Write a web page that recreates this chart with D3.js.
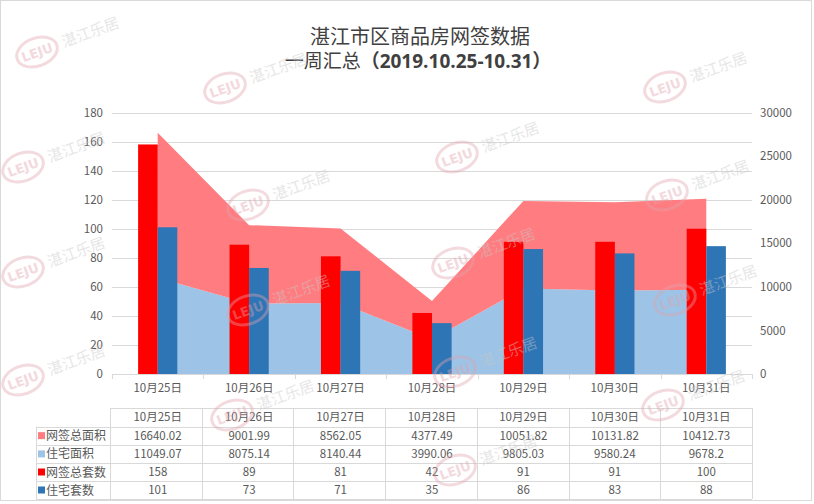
<!DOCTYPE html>
<html><head><meta charset="utf-8">
<script src="https://cdn.jsdelivr.net/npm/d3@7"></script>
<style>
html,body{margin:0;padding:0;background:#fff;}
svg{display:block;font-family:"Noto Sans CJK SC","Noto Sans",sans-serif;}
</style></head>
<body><svg id="c" width="814" height="504"></svg>
<script>
const categories = ['10月25日','10月26日','10月27日','10月28日','10月29日','10月30日','10月31日'];
const totalArea = [16640.02, 9001.99, 8562.05, 4377.49, 10051.82, 10131.82, 10412.73];
const resArea = [11049.07, 8075.14, 8140.44, 3990.06, 9805.03, 9580.24, 9678.2];
const totalUnits = [158, 89, 81, 42, 91, 91, 100];
const resUnits = [101, 73, 71, 35, 86, 83, 88];
const totalAreaText = ['16640.02','9001.99','8562.05','4377.49','10051.82','10131.82','10412.73'];
const resAreaText = ['11049.07','8075.14','8140.44','3990.06','9805.03','9580.24','9678.2'];
const leftTicks = [0,20,40,60,80,100,120,140,160,180];
const rightTicks = [0,5000,10000,15000,20000,25000,30000];
const seriesNames = ['网签总面积','住宅面积','网签总套数','住宅套数'];
const titleLine1 = '湛江市区商品房网签数据';
const titleLine2a = '一周汇总';
const titleLine2b = '（2019.10.25-10.31）';

const colors = {total:'#FF7C80', res:'#9DC3E6', units:'#FF0000', resUnits:'#2E75B6'};
const svg = d3.select('#c');
const txt = '#595959', grid = '#d9d9d9';

const x0 = 112, x1 = 752, yTop = 112.5, yBot = 374;
const x = d3.scaleBand().domain(categories).range([x0, x1]).paddingInner(0).paddingOuter(0);
const yL = d3.scaleLinear().domain([0,180]).range([yBot, yTop]);
const yR = d3.scaleLinear().domain([0,30000]).range([yBot, yTop]);
const cx = c => x(c) + x.bandwidth()/2;

// border
svg.append('rect').attr('x',0.5).attr('y',0.5).attr('width',811).attr('height',500)
  .attr('fill','#fff').attr('stroke','#d9d9d9');

// title
svg.append('text').attr('x',420).attr('y',44).attr('text-anchor','middle')
  .attr('font-size',20).attr('fill','#404040').text(titleLine1);
const t2 = svg.append('text').attr('x',418).attr('y',68).attr('text-anchor','middle')
  .attr('font-size',19).attr('fill','#404040');
t2.append('tspan').text(titleLine2a);
t2.append('tspan').attr('font-weight','bold').attr('font-family','"Open Sans","Noto Sans CJK SC",sans-serif').text(titleLine2b);

// gridlines (left axis)
svg.append('g').selectAll('line').data(leftTicks.filter(d=>d>0)).join('line')
  .attr('x1',x0).attr('x2',x1).attr('y1',d=>Math.round(yL(d))+0.5).attr('y2',d=>Math.round(yL(d))+0.5)
  .attr('stroke',grid).attr('stroke-width',1);

// stacked area
const rows = categories.map((c,i)=>({cat:c, res:resArea[i], total:totalArea[i]}));
const stack = d3.stack().keys(['res','total'])(rows);
const area = d3.area().x(d=>cx(d.data.cat)).y0(d=>yR(d[0])).y1(d=>yR(d[1]));
svg.append('g').selectAll('path').data(stack).join('path')
  .attr('d',area).attr('fill',(d,i)=> i===0 ? colors.res : colors.total);

// bars
const bw = 19.6;
svg.append('g').selectAll('rect').data(categories).join('rect')
  .attr('x',c=>cx(c)-bw).attr('width',bw)
  .attr('y',(c,i)=>yL(totalUnits[i])).attr('height',(c,i)=>yBot-yL(totalUnits[i]))
  .attr('fill',colors.units);
svg.append('g').selectAll('rect').data(categories).join('rect')
  .attr('x',c=>cx(c)).attr('width',bw)
  .attr('y',(c,i)=>yL(resUnits[i])).attr('height',(c,i)=>yBot-yL(resUnits[i]))
  .attr('fill',colors.resUnits);

// x axis
const xa = svg.append('g').attr('transform',`translate(0,${yBot})`)
  .call(d3.axisBottom(x).tickSize(0).tickPadding(10));
xa.select('.domain').attr('stroke',grid).attr('d',`M${x0},0.5H${x1}`);
xa.selectAll('text').attr('font-size',11.5).attr('fill',txt).attr('font-family','"Noto Sans CJK SC",sans-serif');
svg.append('g').selectAll('line').data(d3.range(categories.length+1)).join('line')
  .attr('x1',i=>Math.round(x0+i*x.bandwidth())+0.5).attr('x2',i=>Math.round(x0+i*x.bandwidth())+0.5)
  .attr('y1',yBot).attr('y2',yBot+5).attr('stroke',grid);

// left axis
const la = svg.append('g').attr('transform',`translate(${x0},0)`)
  .call(d3.axisLeft(yL).tickValues(leftTicks).tickSize(0).tickPadding(9));
la.select('.domain').remove();
la.selectAll('text').attr('font-size',11.5).attr('fill',txt).attr('font-family','"Noto Sans CJK SC",sans-serif');

// right axis
const ra = svg.append('g').attr('transform',`translate(${x1},0)`)
  .call(d3.axisRight(yR).tickValues(rightTicks).tickFormat(d3.format('d')).tickSize(0).tickPadding(8));
ra.select('.domain').remove();
ra.selectAll('text').attr('font-size',11.5).attr('fill',txt).attr('font-family','"Noto Sans CJK SC",sans-serif');

// data table
const tbl = svg.append('g');
const rowY = [408, 426.5, 444.8, 463, 481, 499];
const labelX0 = 36;
const tableRows = [
  {name:seriesNames[0], color:colors.total, vals:totalAreaText},
  {name:seriesNames[1], color:colors.res, vals:resAreaText},
  {name:seriesNames[2], color:colors.units, vals:totalUnits.map(String)},
  {name:seriesNames[3], color:colors.resUnits, vals:resUnits.map(String)}
];
tbl.selectAll('line.h').data(rowY).join('line').attr('class','h')
  .attr('x1',(d,i)=> i===0 ? x0-2 : labelX0).attr('x2',x1)
  .attr('y1',d=>Math.round(d)+0.5).attr('y2',d=>Math.round(d)+0.5).attr('stroke',grid);
const vx = d3.range(categories.length+1).map(i=>x0-2+i*x.bandwidth()+ (i===0?0:2*(i/categories.length)));
tbl.selectAll('line.v').data(vx).join('line').attr('class','v')
  .attr('x1',d=>Math.round(d)+0.5).attr('x2',d=>Math.round(d)+0.5)
  .attr('y1',rowY[0]).attr('y2',rowY[5]).attr('stroke',grid);
tbl.append('line').attr('x1',labelX0+0.5).attr('x2',labelX0+0.5).attr('y1',rowY[1]).attr('y2',rowY[5]).attr('stroke',grid);
tbl.selectAll('text.hd').data(categories).join('text').attr('class','hd')
  .attr('x',c=>cx(c)).attr('y',(rowY[0]+rowY[1])/2+4).attr('text-anchor','middle')
  .attr('font-size',11.5).attr('fill',txt).text(c=>c);
tableRows.forEach((r,ri)=>{
  const yc = (rowY[ri+1]+rowY[ri+2])/2;
  tbl.append('rect').attr('x',labelX0+2).attr('y',yc-3.5).attr('width',7).attr('height',7).attr('fill',r.color);
  tbl.append('text').attr('x',labelX0+10).attr('y',yc+4.5).attr('font-size',12).attr('fill',txt).text(r.name);
  tbl.selectAll(null).data(r.vals).join('text')
    .attr('x',(d,i)=>cx(categories[i])).attr('y',yc+4).attr('text-anchor','middle')
    .attr('font-size',11.5).attr('fill',txt).text(d=>d);
});

// watermarks (faint)
const marks = [[37,52],[23,167],[23,272],[23,380],[225,88],[248,205],[248,310],[232,415],
  [457,157],[453,263],[455,372],[455,470],[665,87],[667,195],[675,300],[663,405]];
const wm = svg.append('g').attr('pointer-events','none');
marks.forEach(([mx,my])=>{
  const g = wm.append('g').attr('transform',`translate(${mx},${my}) rotate(-20)`);
  g.append('ellipse').attr('rx',21).attr('ry',14).attr('fill','none')
    .attr('stroke','#e2a3ad').attr('stroke-width',3).attr('opacity',0.4);
  g.append('text').attr('x',0).attr('y',5).attr('text-anchor','middle').attr('font-size',13)
    .attr('font-weight','bold').attr('fill','#e2a3ad').attr('opacity',0.4)
    .attr('font-family','"DejaVu Sans",sans-serif').text('LEJU');
  g.append('text').attr('x',27).attr('y',5).attr('font-size',15)
    .attr('fill','#c9c9c9').attr('opacity',0.45).text('湛江乐居');
});
</script></body></html>
